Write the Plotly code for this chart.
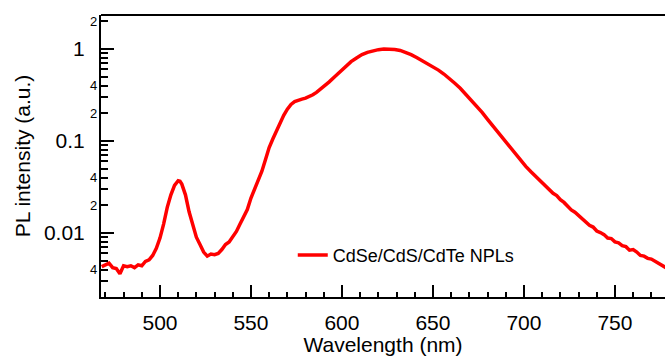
import numpy as np
import plotly.graph_objects as go

# ---- data ----
wavelength = [468, 470, 472, 474, 476, 478, 480, 482, 484, 486, 488, 490, 492, 494, 496, 498,
              500, 502, 504, 506, 508, 510, 511, 512, 514, 516, 518, 520, 522, 524, 526, 528,
              530, 532, 534, 536, 538, 540, 542, 544, 546, 548, 550, 552, 554, 556, 558, 560,
              562, 564, 566, 568, 570, 572, 574, 576, 578, 580, 582, 584, 586, 588, 590, 593,
              596, 599, 602, 605, 608, 611, 614, 617, 620, 623, 626, 629, 632, 635, 638, 641,
              644, 647, 650, 653, 656, 659, 662, 665, 668, 671, 674, 677, 680, 683, 686, 689,
              692, 695, 698, 701, 704, 707, 710, 713, 716, 718, 720, 722, 724, 726, 728, 730,
              732, 734, 736, 738, 740, 742, 744, 746, 748, 750, 752, 754, 756, 758, 760, 762,
              764, 766, 768, 770, 772, 774, 776, 778]
intensity = [0.0043, 0.0045, 0.0047, 0.0042, 0.0041, 0.0036, 0.0044, 0.0043, 0.0044, 0.0042,
             0.0045, 0.0044, 0.0049, 0.0051, 0.0057, 0.0068,
             0.0088, 0.0125, 0.019, 0.026, 0.033, 0.037, 0.0365, 0.034, 0.026, 0.017, 0.012,
             0.0090, 0.0075, 0.0062, 0.0056, 0.0059,
             0.0058, 0.0060, 0.0066, 0.0075, 0.0080, 0.0092, 0.0104, 0.0125, 0.0152, 0.018,
             0.024, 0.030, 0.038, 0.047, 0.063, 0.085,
             0.105, 0.130, 0.158, 0.190, 0.222, 0.250, 0.268, 0.278, 0.285, 0.292, 0.302,
             0.318, 0.338, 0.362, 0.390, 0.44,
             0.50, 0.57, 0.65, 0.73, 0.80, 0.87, 0.92, 0.96, 0.985, 0.998, 1.0, 0.99, 0.965,
             0.92, 0.87, 0.81,
             0.75, 0.69, 0.64, 0.59, 0.535, 0.48, 0.425, 0.375, 0.325, 0.28, 0.24, 0.205, 0.172,
             0.145, 0.123, 0.103,
             0.087, 0.073, 0.062, 0.053, 0.046, 0.040, 0.035, 0.031, 0.027, 0.0255, 0.023,
             0.0215, 0.0195, 0.0178, 0.0168, 0.0155,
             0.014, 0.0132, 0.0121, 0.0116, 0.0105, 0.0101, 0.0096, 0.0088, 0.0087, 0.0080,
             0.0078, 0.0073, 0.0071, 0.0065, 0.0066, 0.0062,
             0.0057, 0.0056, 0.0053, 0.0052, 0.0049, 0.0047, 0.0044, 0.0042]

series_name = "CdSe/CdS/CdTe NPLs"
x_major_ticks = [500, 550, 600, 650, 700, 750]
y_major_ticks = [0.01, 0.1, 1]
y_major_text = ["0.01", "0.1", "1"]
y_minor_labeled = [0.002, 0.004, 0.02, 0.04, 0.2, 0.4, 2]
y_minor_text = ["2", "4", "2", "4", "2", "4", "2"]
y_minor_ticks = [k * 10.0 ** e for e in (-3, -2, -1, 0) for k in range(2, 10)
                 if 0.002 <= k * 10.0 ** e <= 2.2]

FONT = "Liberation Sans, Arial, sans-serif"

fig = go.Figure()
fig.add_trace(go.Scatter(x=wavelength, y=intensity, mode="lines", name=series_name,
                         line=dict(color="#ff0000", width=3.5)))

for v, t in zip(y_minor_labeled, y_minor_text):
    fig.add_annotation(x=0, xref="paper", y=np.log10(v), yref="y", text=t,
                       showarrow=False, xanchor="right", yanchor="middle", xshift=-2,
                       font=dict(family=FONT, size=13, color="black"))

fig.add_shape(type="line", xref="paper", yref="paper", x0=0, x1=1, y0=1, y1=1,
              line=dict(color="black", width=2))

fig.update_layout(
    width=665, height=356,
    margin=dict(l=101, r=0, t=15, b=59),
    paper_bgcolor="white", plot_bgcolor="white",
    font=dict(family=FONT, color="black"),
    showlegend=True,
    legend=dict(x=0.34, y=0.148, xanchor="left", yanchor="middle",
                bgcolor="rgba(0,0,0,0)", font=dict(family=FONT, size=18, color="black")),
    xaxis=dict(
        range=[467.6, 777.5], showgrid=False, zeroline=False,
        showline=True, linecolor="black", linewidth=2,
        ticks="inside", ticklen=12, tickwidth=1.5, tickcolor="black",
        tickmode="array", tickvals=x_major_ticks,
        tickfont=dict(family=FONT, size=21, color="black"),
        ticklabelstandoff=6,
        minor=dict(dtick=10, tick0=0, ticks="inside", ticklen=5, tickwidth=1.5,
                   tickcolor="black", showgrid=False),
        title=dict(text="Wavelength (nm)", font=dict(family=FONT, size=21, color="black"),
                   standoff=4),
    ),
    yaxis=dict(
        type="log", range=[-2.696, 0.37], showgrid=False, zeroline=False,
        showline=True, linecolor="black", linewidth=2,
        ticks="inside", ticklen=13, tickwidth=2, tickcolor="black",
        tickmode="array", tickvals=y_major_ticks, ticktext=y_major_text,
        tickfont=dict(family=FONT, size=21, color="black"),
        ticklabelstandoff=10,
        minor=dict(tickmode="array", tickvals=y_minor_ticks, ticks="inside", ticklen=7,
                   tickwidth=2, tickcolor="black", showgrid=False),
        title=dict(text="PL intensity (a.u.)", font=dict(family=FONT, size=21, color="black"),
                   standoff=8),
    ),
)

fig.write_html("out.html")
